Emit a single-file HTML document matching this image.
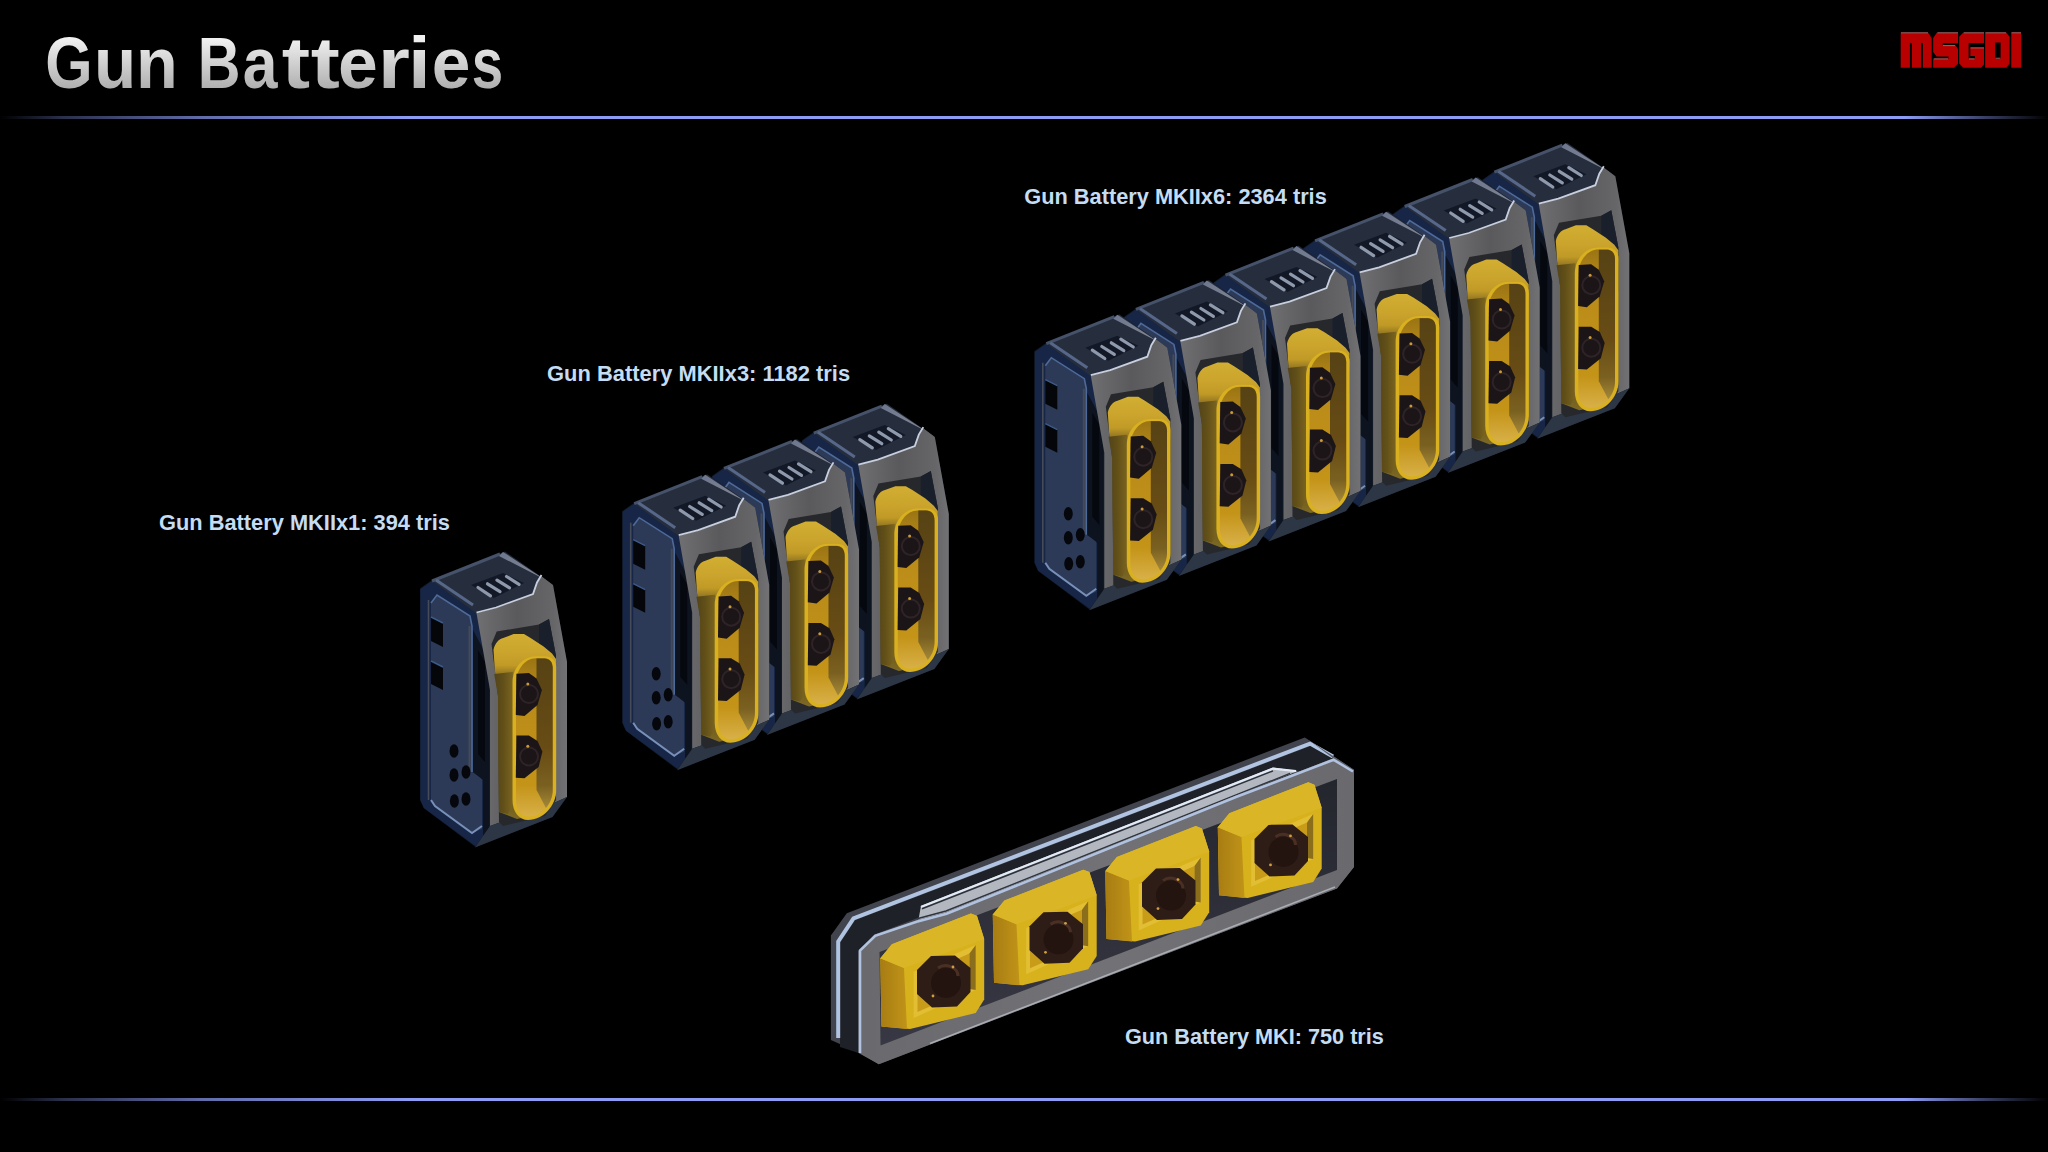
<!DOCTYPE html>
<html><head><meta charset="utf-8">
<style>
html,body{margin:0;padding:0;background:#000;width:2048px;height:1152px;overflow:hidden}
svg{display:block}
text{font-family:"Liberation Sans",sans-serif}
</style></head>
<body>
<svg width="2048" height="1152" viewBox="0 0 2048 1152">
<defs>
<linearGradient id="tg" x1="0" y1="0" x2="0" y2="1">
<stop offset="0" stop-color="#f4f4f4"/><stop offset="1" stop-color="#a6a6a6"/>
</linearGradient>
<linearGradient id="ln1" x1="0" y1="0" x2="1" y2="0">
<stop offset="0" stop-color="#8c9cf4" stop-opacity="0"/>
<stop offset="0.03" stop-color="#8c9cf4" stop-opacity="0.3"/>
<stop offset="0.1" stop-color="#8c9cf4" stop-opacity="0.7"/>
<stop offset="0.2" stop-color="#8c9cf4" stop-opacity="1"/>
<stop offset="0.93" stop-color="#8c9cf4" stop-opacity="1"/>
<stop offset="0.97" stop-color="#8c9cf4" stop-opacity="0.4"/>
<stop offset="1" stop-color="#8c9cf4" stop-opacity="0"/>
</linearGradient>
<linearGradient id="frontg" x1="0" y1="0" x2="1" y2="0">
<stop offset="0" stop-color="#707072"/><stop offset="0.15" stop-color="#68686a"/><stop offset="0.45" stop-color="#5a5a5c"/><stop offset="0.85" stop-color="#666668"/><stop offset="1" stop-color="#727274"/>
</linearGradient>
<linearGradient id="pillg" x1="0" y1="0" x2="0" y2="1">
<stop offset="0" stop-color="#d2ae32"/><stop offset="0.1" stop-color="#caa42c"/><stop offset="0.17" stop-color="#c09a26"/><stop offset="0.24" stop-color="#7a6220"/><stop offset="0.3" stop-color="#6e5a1c"/><stop offset="0.88" stop-color="#6a561c"/><stop offset="1" stop-color="#7e6a24"/>
</linearGradient>
<linearGradient id="innerg" x1="0" y1="0" x2="0" y2="1">
<stop offset="0" stop-color="#9a7414"/><stop offset="0.2" stop-color="#b88a18"/><stop offset="0.8" stop-color="#c49418"/><stop offset="1" stop-color="#d8b048"/>
</linearGradient>
<linearGradient id="olivg" x1="0" y1="0" x2="0" y2="1">
<stop offset="0" stop-color="#564214"/><stop offset="0.6" stop-color="#684c14"/><stop offset="0.85" stop-color="#7a6020"/><stop offset="1" stop-color="#a48838"/>
</linearGradient>
<linearGradient id="mkif" x1="0" y1="0" x2="1" y2="0">
<stop offset="0" stop-color="#6a6a6e"/><stop offset="0.5" stop-color="#727276"/><stop offset="1" stop-color="#6a6a6e"/>
</linearGradient>
<linearGradient id="mkir" x1="0" y1="0" x2="0" y2="1">
<stop offset="0" stop-color="#24262e"/><stop offset="1" stop-color="#383844"/>
</linearGradient>
<linearGradient id="blks" x1="0" y1="0" x2="1" y2="0">
<stop offset="0" stop-color="#a87c12"/><stop offset="1" stop-color="#c09418"/>
</linearGradient>
<linearGradient id="bstrip" x1="0" y1="0" x2="1" y2="1">
<stop offset="0" stop-color="#6c768e"/><stop offset="1" stop-color="#8a8c92"/>
</linearGradient>
<linearGradient id="sideg" x1="0" y1="0" x2="1" y2="0">
<stop offset="0" stop-color="#544418"/><stop offset="0.5" stop-color="#625018"/><stop offset="1" stop-color="#7a6420"/>
</linearGradient>
<linearGradient id="tg2" gradientUnits="userSpaceOnUse" x1="0" y1="-50" x2="0" y2="0">
<stop offset="0" stop-color="#f2f2f2"/><stop offset="1" stop-color="#b0b0b0"/>
</linearGradient>

<g id="u">
 <!-- silhouette base dark -->
 <path d="M505,551.5 L432,580 L420,588.5 L420,800 L423.5,808 L475.5,847 L552.5,817 L567,797 L567,662 L553,585 Z" fill="#121a28"/>
 <!-- left face border -->
 <path d="M420.5,589 L432,581 L477,613 L483,640 L483,836 L475.5,846 L424,808 L420.5,800 Z" fill="#172646"/>
 <path d="M428.5,600 L428.5,800" stroke="#454c58" stroke-width="1.6"/>
 <!-- left panel -->
 <path d="M431,603 L437,595 L470,616 L472,626 L472,772 L482,778 L482,829 L472,833 L435,806 L431,800 Z" fill="#2c3a58"/>
 <path d="M431,603 L437,595 L470,616 L472,626 L472,772" fill="none" stroke="#4e6a98" stroke-width="1.6"/>
 <path d="M469.5,626 L469.5,772" stroke="#454a55" stroke-width="2"/>
 <path d="M431,800 L435,806 L472,833 L482,826" fill="none" stroke="#7890b8" stroke-width="2"/>
 <!-- slots -->
 <path d="M431,617 L443,623 L443,647 L431,641 Z" fill="#04060a"/>
 <path d="M431,661 L443,667 L443,690 L431,684 Z" fill="#04060a"/>
 <path d="M431,617 L443,623 M431,661 L443,667" stroke="#3e5a88" stroke-width="1.4"/>
 <!-- holes -->
 <g fill="#05070c">
  <ellipse cx="454" cy="751" rx="4.5" ry="6.8"/>
  <ellipse cx="454" cy="775" rx="4.5" ry="6.8"/>
  <ellipse cx="466" cy="772" rx="4.5" ry="6.8"/>
  <ellipse cx="454.4" cy="801" rx="4.5" ry="6.8"/>
  <ellipse cx="466" cy="799" rx="4.5" ry="6.8"/>
 </g>
 <!-- groove between left and front -->
 <path d="M473,630 L489,660 L489,830 L483,836 L483,780 L473,772 Z" fill="#0d1420"/>
 <path d="M478,650 L485,662 L485,762 L478,754 Z" fill="#05080e"/>
 <!-- top face -->
 <path d="M505,552 L432,581 L476,613 L496,608 L533,594.5 L537,583 L541,576 L553,585 Z" fill="#262e3e"/>
 <path d="M432,581 L500,554" stroke="#46526a" stroke-width="3"/>
 <path d="M436,580 L473,605" stroke="#56678a" stroke-width="3"/>
 <path d="M503,552 L553,585 L541,577.5 L499,556 Z" fill="url(#bstrip)"/>
 <!-- vent -->
 <path d="M471,585 L503,573 L524,583 L494,598 Z" fill="#121826"/>
 <g stroke="#8e9aac" stroke-width="3.2" stroke-linecap="round">
  <line x1="478" y1="587.5" x2="490.5" y2="595.8"/>
  <line x1="487.5" y1="583.8" x2="500" y2="591.6"/>
  <line x1="497" y1="580.1" x2="509.5" y2="587.9"/>
  <line x1="506.5" y1="576.5" x2="519" y2="584.3"/>
 </g>
 <!-- front face gray -->
 <path d="M476.5,613 L496,608 L533,594.5 L537,583 L541,576 L553,585 L567,662 L567,797 L556,802 L490,826 L490,690 Z" fill="url(#frontg)"/>
 <path d="M476.5,612.5 L496,607.5 L533,594 L537,582.5 L541.5,575" fill="none" stroke="#c8d0e0" stroke-width="1.8"/>
 <!-- bottom bevel -->
 <path d="M483,836 L490,826 L556,802 L567,797 L552.5,817 L475,847.5 Z" fill="#2c3644"/>
 <!-- recess -->
 <path d="M491.5,644 L496.7,631.5 L539,624.5 L549,619 L556,656 L556,800 L545,816 L503,826 L499,822 L498,696 L494.8,670 Z" fill="#26282c"/>
 <path d="M539,624.5 L549,619 L556,656 L556,700 L539,700 Z" fill="#1a1f2c"/>
 <!-- pill body -->
 <path d="M493.5,649.7 C495,643 499,639 503.2,638 L513.6,634.1 L524,634.1 L530.6,638 L543.6,646.5 L552,653.6 L556,659 L556,795 L540,814 L517,819 L499,812 L498,696 L494.8,670 Z" fill="url(#pillg)"/>
 <path d="M494.2,674 L512.8,672 L512.8,806 L508,814 L499,812 L498,696 Z" fill="url(#sideg)"/>
 <!-- rim -->
 <path d="M512.5,800 L512.5,682 C512.5,668 523,656.3 536,656.3 L545,656.3 C551.5,656.3 556.2,660.5 556.2,667.5 L556.2,790 C556.2,806 543,820 528,820 C519,820 512.5,812 512.5,800 Z" fill="#d8b020"/>
 <path d="M516,800 L516,683 C516,670.5 524.5,658.3 536,658.3 L544.5,658.3 C549.5,658.3 552.7,662 552.7,668.5 L552.7,790 C552.7,804 542,816.5 528.5,816.5 C521,816.5 516,810 516,800 Z" fill="url(#innerg)"/>
 <path d="M536.5,658.5 L544.5,658.5 C549.5,658.5 552.7,662 552.7,668.5 L552.7,790 C552.7,797 550,803 546,808 L536.5,790 Z" fill="url(#olivg)"/>
 <!-- bolts -->
 <path d="M516.4,673.7 L528.9,673.1 L536.5,678.6 L541.9,690 L537.5,705.1 L524.5,716 L515.8,714.9 Z" fill="#1c1517"/>
 <path d="M516.4,735.5 L528.9,735.5 L537.5,740.9 L542.4,751.8 L538.6,767 L524.5,778.3 L515.8,777.8 Z" fill="#1c1517"/>
 <circle cx="529" cy="694" r="9" fill="none" stroke="#2e2428" stroke-width="2"/>
 <circle cx="529" cy="756.5" r="9" fill="none" stroke="#2e2428" stroke-width="2"/>
 <circle cx="527.8" cy="684" r="1.5" fill="#c89a3a"/>
 <circle cx="527.8" cy="746.3" r="1.5" fill="#c89a3a"/>
</g>
<g id="blk">
 <path d="M880.3,958.3 L891.9,944.3 L970.8,913.4 L976.9,915.8 L984.2,938.9 L984.2,999.6 L975.7,1013 L910.1,1029 L881.5,1026.4 Z" fill="#d8b21c"/>
 <path d="M880.3,958.3 L904,968 L907,1029 L881.5,1026.4 Z" fill="url(#blks)"/>
 <path d="M880.3,958.3 L891.9,944.3 L970.8,913.4 L976.9,915.8 L984.2,938.9 L904,968 Z" fill="#dab626"/>
 <path d="M913.7,971.7 L975.7,945 L975.7,990 L913.7,1017.9 Z" fill="#e2be34"/>
 <path d="M917.5,976 L969.5,953.5 L969.5,989 L917.5,1012 Z" fill="#c89c18"/>
 <path d="M969.5,953.5 L975.7,945 L975.7,990 L969.5,989 Z" fill="#8a6e1c"/>
 <path d="M931,956 L955,955.5 L970.5,968 L970.5,992 L957,1006.5 L932,1007.5 L917,994 L917,970 Z" fill="#2e1c17"/>
 <circle cx="946" cy="983" r="15" fill="#23140f"/>
 <path d="M938,968 C946,962 958,968 958,976" fill="none" stroke="#4a3024" stroke-width="3"/>
 <circle cx="953" cy="967" r="1.4" fill="#d0a040"/>
 <circle cx="933" cy="996" r="1.4" fill="#d0a040"/>
</g>

</defs>
<rect x="0" y="0" width="2048" height="1152" fill="#000"/>
<g font-size="72" font-weight="bold" fill="url(#tg2)"><text transform="translate(45.27,87.6) scale(0.845,1)">G</text><text transform="translate(93.96,87.6) scale(0.960,1)">u</text><text transform="translate(136.06,87.6) scale(0.949,1)">n</text><text transform="translate(197.69,87.6) scale(0.823,1)">B</text><text transform="translate(242.77,87.6) scale(0.867,1)">a</text><text transform="translate(281.82,87.6) scale(1.182,1)">t</text><text transform="translate(310.79,87.6) scale(1.214,1)">t</text><text transform="translate(338.02,87.6) scale(0.994,1)">e</text><text transform="translate(378.12,87.6) scale(1.136,1)">r</text><text transform="translate(407.90,87.6) scale(1.140,1)">i</text><text transform="translate(431.70,87.6) scale(0.966,1)">e</text><text transform="translate(471.64,87.6) scale(0.785,1)">s</text></g>
<rect x="0" y="116" width="2048" height="3" fill="url(#ln1)"/>
<rect x="0" y="1098" width="2048" height="3" fill="url(#ln1)"/>
<g fill="#c4dcf4" font-size="22.5" font-weight="bold">
<text x="159" y="529.5" textLength="291" lengthAdjust="spacingAndGlyphs">Gun Battery MKIIx1: 394 tris</text>
<text x="547.1" y="380.5" textLength="303" lengthAdjust="spacingAndGlyphs">Gun Battery MKIIx3: 1182 tris</text>
<text x="1024.2" y="203.8" textLength="302.6" lengthAdjust="spacingAndGlyphs">Gun Battery MKIIx6: 2364 tris</text>
<text x="1124.9" y="1044.4" textLength="259" lengthAdjust="spacingAndGlyphs">Gun Battery MKI: 750 tris</text>
</g>
<use href="#u" transform="translate(1062.3,-408.8)"/>
<use href="#u" transform="translate(972.7,-374.5)"/>
<use href="#u" transform="translate(883.1,-340.2)"/>
<use href="#u" transform="translate(793.5,-305.9)"/>
<use href="#u" transform="translate(703.9,-271.6)"/>
<use href="#u" transform="translate(614.3,-237.3)"/>
<use href="#u" transform="translate(381.8,-147.9)"/>
<use href="#u" transform="translate(292.0,-112.6)"/>
<use href="#u" transform="translate(202.2,-77.3)"/>
<use href="#u"/>
<g id="mki">
<path d="M830.9,1040 L830.9,935.6 L846.8,913.3 L1304.8,737.4 L1354,769.7 L1354,867 L1337,888.4 L878.8,1064.2 L860,1053 Z" fill="#41444c"/>
<path d="M840,1047 L840,943 L855,920.3 L1311.0,745.7 L1333,758.5 L874.6,934.5 L858.6,951 L858.6,1053 Z" fill="#1e2128"/>
<path d="M838.2,1038 L838.2,941.5 L853.5,918.4 L1310.0,743.6 L1333,756.5" fill="none" stroke="#b0c4e2" stroke-width="4"/>
<path d="M1304.8,737.4 L1354,769.7 L1354,772 L1333,758 L1311,741.7 Z" fill="#5a5e68"/>
<path d="M918.4,919.9 L921.0,905.8 L1273.0,767.5 L1298.0,770.9 L1236.0,795.5 L946.0,912.5 L916.0,920.5 Z" fill="#b2b7c0"/>
<path d="M921.0,906.9 L1273.0,768.6 L1296.0,771.1" fill="none" stroke="#e2eaf6" stroke-width="2.2"/>
<path d="M922.0,908.8 L1273.0,770.9" stroke="#2c3038" stroke-width="1.5"/>
<path d="M918.0,918.5 L946.0,911.0 L1290.0,773.4" fill="none" stroke="#30343c" stroke-width="1.4"/>
<path d="M858.6,1053 L858.6,951 L874.6,934.5 L916.0,920.5 L946.0,912.5 L1236.0,795.5 L1333.0,758.5 L1354,771 L1354,867 L1337,888.4 L878.8,1064.2 Z" fill="url(#mkif)"/>
<path d="M860,1053 L860,950.5 L875.2,935.8 L916.6,921.8 L946.6,913.8 L1236.6,796.8 L1333.6,759.8 L1353,771.5" fill="none" stroke="#b0c2e0" stroke-width="2.6"/>
<path d="M930,1043.5 L1335,887" stroke="#b8bcc4" stroke-width="1.6" opacity="0.8"/>
<path d="M879.5,952 L1337,779 L1337,870 L880.5,1045.5 Z" fill="url(#mkir)"/>
<use href="#blk" transform="translate(337.5,-131.1)"/>
<use href="#blk" transform="translate(225,-87.4)"/>
<use href="#blk" transform="translate(112.5,-43.7)"/>
<use href="#blk"/>
</g>

<g id="logo" fill="#b80000">
 <!-- M -->
 <path d="M1900.7,32.4 L1928,32.4 L1931.7,38.3 L1931.7,67.7 L1922.9,67.7 L1922.9,43.5 C1922.9,42.5 1921,42.5 1921,43.5 L1921,67.7 L1911.8,67.7 L1911.8,43.5 C1911.8,42.5 1909.9,42.5 1909.9,43.5 L1909.9,67.7 L1900.7,67.7 Z"/>
 <!-- S -->
 <path d="M1937,32.4 L1958,32.4 L1958,43.3 L1942.7,43.3 L1942.7,45.2 L1955.5,45.2 L1958,49 L1958,63.5 L1953.8,67.7 L1933.2,67.7 L1933.2,58.5 L1948.5,58.5 L1948.5,56.6 L1936.5,56.6 L1933.2,52 L1933.2,37.9 Z"/>
 <!-- G -->
 <path d="M1963.4,32.4 L1984,32.4 L1984,42.9 L1968.6,42.9 L1968.6,58.5 L1974.9,58.5 L1974.9,56 L1970.3,56 L1970.3,47.5 L1984,47.5 L1984,64.5 L1981,67.7 L1963.4,67.7 L1959.2,63.5 L1959.2,36.8 Z"/>
 <!-- D -->
 <path fill-rule="evenodd" d="M1985.2,32.4 L2006.2,32.4 L2009.6,36.8 L2009.6,63.5 L2006.2,67.7 L1985.2,67.7 Z M1995.1,42.5 L1995.1,58.5 L2000.6,58.5 L2000.6,42.5 Z"/>
 <!-- I -->
 <rect x="2011.3" y="32.4" width="9.8" height="35.3"/>
 <g stroke="#9aa0a0" stroke-width="0.8" opacity="0.8">
  <path d="M1901,32.8 L1928,32.8 M1937.5,32.8 L1958,32.8 M1963.8,32.8 L1984,32.8 M1985.5,32.8 L2006,32.8 M2011.5,32.8 L2021,32.8"/>
  <path d="M1943,45.6 L1955,45.6 M1934,58.9 L1948,58.9 M1970.5,47.9 L1984,47.9 M1969,58.9 L1974.5,58.9 M1995.5,58.2 L2000.3,58.2"/>
 </g>
</g>

</svg>
</body></html>
